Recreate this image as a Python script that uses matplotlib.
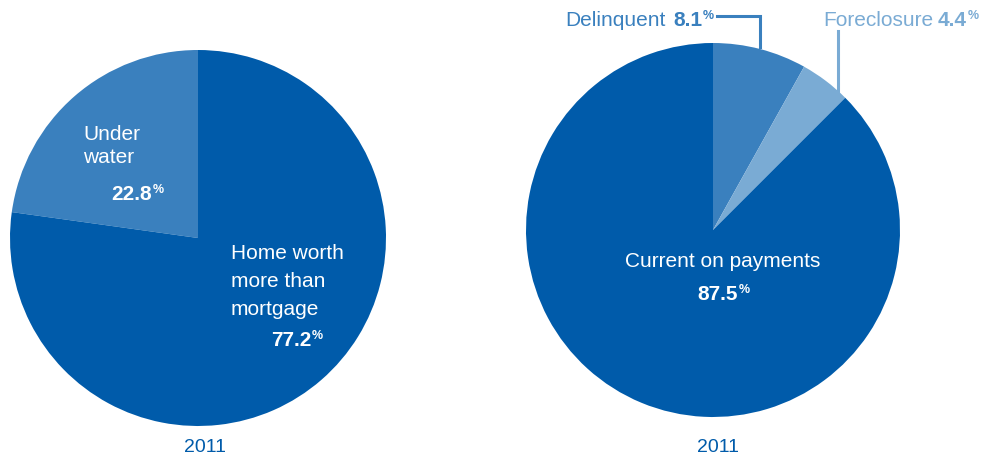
import matplotlib.pyplot as plt

plt.rcParams["font.family"] = ["Liberation Sans", "DejaVu Sans"]

DARK = "#005baa"
MID = "#3a80be"
LIGHT = "#7aabd4"

# equity split, 2011
equity_labels = ["Under\nwater", "Home worth\nmore than\nmortgage"]
equity_values = [22.8, 77.2]

# payment status, 2011
payment_labels = ["Delinquent", "Foreclosure", "Current on payments"]
payment_values = [8.1, 4.4, 87.5]

year = "2011"

W, H = 984, 464


def pct(ax, x, y, value, size=15, color="white"):
    # bold number ending at x, small superscript % right after it
    ax.text(x, y, f"{value:.1f}", ha="right", va="baseline", fontsize=size,
            fontweight="bold", color=color)
    ax.text(x + 0.5, y + 7, "%", ha="left", va="baseline", fontsize=size * 0.6,
            fontweight="bold", color=color)


fig = plt.figure(figsize=(W / 100, H / 100), dpi=100)
ax = fig.add_axes([0, 0, 1, 1])

# left pie: under water counter-clockwise from 12 o'clock
ax.pie(equity_values, colors=[MID, DARK], startangle=90, counterclock=True,
       center=(198, H - 239), radius=188, frame=True,
       wedgeprops=dict(linewidth=0))

# right pie: delinquent and foreclosure clockwise from 12 o'clock
ax.pie(payment_values, colors=[MID, LIGHT, DARK], startangle=90, counterclock=False,
       center=(713, H - 231), radius=187, frame=True,
       wedgeprops=dict(linewidth=0))

ax.set_xlim(0, W)
ax.set_ylim(0, H)
ax.set_aspect("equal")
ax.axis("off")

# left pie labels
ax.text(83, H - 163, equity_labels[0], ha="left", va="baseline", fontsize=15,
        color="white", linespacing=1.3)
pct(ax, 152, H - 200, equity_values[0])
ax.text(231, H - 315, equity_labels[1], ha="left", va="baseline", fontsize=15,
        color="white", linespacing=1.6)
pct(ax, 311, H - 346, equity_values[1])

# right pie labels
ax.text(723, H - 267, payment_labels[2], ha="center", va="baseline", fontsize=15,
        color="white")
pct(ax, 738, H - 300, payment_values[2])

# callouts above the right pie
ax.text(565, H - 26, payment_labels[0], ha="left", va="baseline",
        fontsize=15, color=MID)
pct(ax, 702, H - 26, payment_values[0], color=MID)
ax.plot([717, 760, 760], [H - 17, H - 17, H - 48], color=MID, lw=2.2,
        solid_joinstyle="miter")

ax.text(823, H - 26, payment_labels[1], ha="left", va="baseline",
        fontsize=15, color=LIGHT)
pct(ax, 967, H - 26, payment_values[1], color=LIGHT)
ax.plot([838, 838], [H - 32, H - 96], color=LIGHT, lw=2.2)

# year captions
ax.text(205, H - 452, year, ha="center", va="baseline", fontsize=14, color=DARK)
ax.text(718, H - 452, year, ha="center", va="baseline", fontsize=14, color=DARK)

fig.savefig("out.png", dpi=100)
